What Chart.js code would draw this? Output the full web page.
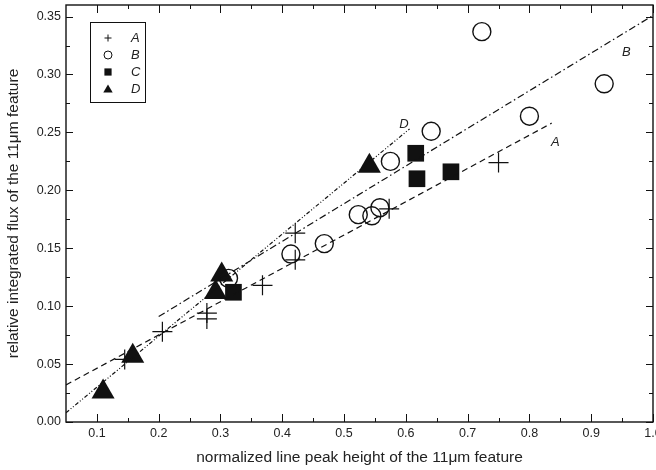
<!DOCTYPE html>
<html>
<head>
<meta charset="utf-8">
<script src="https://cdn.jsdelivr.net/npm/chart.js@4.4.1/dist/chart.umd.min.js"></script>
<style>
  html, body { margin: 0; padding: 0; background: #fff; }
  canvas { display: block; }
</style>
</head>
<body>
<canvas id="fluxChart" width="656" height="470"></canvas>
<script>
// sample A (plus markers)
const aX = [0.145, 0.206, 0.278, 0.278, 0.368, 0.421, 0.421, 0.573, 0.750];
const aY = [0.054, 0.078, 0.094, 0.089, 0.118, 0.140, 0.163, 0.184, 0.224];
// sample B (open circles)
const bX = [0.313, 0.414, 0.468, 0.523, 0.545, 0.558, 0.575, 0.641, 0.723, 0.800, 0.921];
const bY = [0.124, 0.145, 0.154, 0.179, 0.178, 0.185, 0.225, 0.251, 0.337, 0.264, 0.292];
// sample C (filled squares)
const cX = [0.321, 0.616, 0.618, 0.673];
const cY = [0.112, 0.232, 0.210, 0.216];
// sample D (filled triangles)
const dX = [0.110, 0.158, 0.292, 0.302, 0.541];
const dY = [0.026, 0.057, 0.112, 0.127, 0.221];

// linear fits, start and end points
const fitAX = [0.05, 0.836], fitAY = [0.032, 0.258];
const fitBX = [0.20, 1.00],  fitBY = [0.091, 0.351];
const fitDX = [0.05, 0.606], fitDY = [0.008, 0.253];

// fit labels
const fitNames = ['A', 'B', 'D'];
const fitNameX = [0.842, 0.957, 0.597];
const fitNameY = [0.241, 0.319, 0.257];

// axis ticks
const xTicks = [0.1, 0.2, 0.3, 0.4, 0.5, 0.6, 0.7, 0.8, 0.9, 1.0];
const xTickLabels = ['0.1', '0.2', '0.3', '0.4', '0.5', '0.6', '0.7', '0.8', '0.9', '1.0'];
const xMinor = [0.15, 0.25, 0.35, 0.45, 0.55, 0.65, 0.75, 0.85, 0.95];
const yTicks = [0, 0.05, 0.10, 0.15, 0.20, 0.25, 0.30, 0.35];
const yTickLabels = ['0.00', '0.05', '0.10', '0.15', '0.20', '0.25', '0.30', '0.35'];
const yMinor = [0.025, 0.075, 0.125, 0.175, 0.225, 0.275, 0.325];

const xTitle = 'normalized line peak height of the 11\u03bcm feature';
const yTitle = 'relative integrated flux of the 11\u03bcm feature';

const FONT = "'Liberation Sans', Arial, Helvetica, sans-serif";
const INK = '#111';

const pts = (xs, ys) => xs.map((x, i) => ({ x, y: ys[i] }));

function fitLine(xs, ys, dash) {
  return {
    type: 'line',
    data: pts(xs, ys),
    borderColor: INK,
    borderWidth: 1.2,
    borderDash: dash,
    pointRadius: 0,
    fill: false,
    showLine: true
  };
}

// little markers for the legend box
function legendMarker(ctx, kind, x, y) {
  ctx.save();
  ctx.strokeStyle = INK;
  ctx.fillStyle = INK;
  ctx.lineWidth = 1;
  ctx.beginPath();
  if (kind === 'plus') {
    ctx.moveTo(x - 3.5, y); ctx.lineTo(x + 3.5, y);
    ctx.moveTo(x, y - 3.5); ctx.lineTo(x, y + 3.5);
    ctx.stroke();
  } else if (kind === 'circle') {
    ctx.arc(x, y, 4, 0, Math.PI * 2);
    ctx.stroke();
  } else if (kind === 'square') {
    ctx.fillRect(x - 3.6, y - 3.6, 7.2, 7.2);
  } else {
    ctx.moveTo(x, y - 4.5); ctx.lineTo(x + 4.7, y + 3.6); ctx.lineTo(x - 4.7, y + 3.6);
    ctx.closePath();
    ctx.fill();
  }
  ctx.restore();
}

const framePlugin = {
  id: 'frame',
  afterDatasetsDraw(chart) {
    const { ctx, chartArea: a, scales: { x, y } } = chart;
    ctx.save();

    // axes box
    ctx.strokeStyle = INK;
    ctx.lineWidth = 1.4;
    ctx.strokeRect(a.left, a.top, a.right - a.left, a.bottom - a.top);

    // inward ticks on all four sides
    ctx.lineWidth = 1;
    ctx.beginPath();
    const xt = (v, len) => {
      const px = Math.round(x.getPixelForValue(v)) + 0.5;
      ctx.moveTo(px, a.bottom); ctx.lineTo(px, a.bottom - len);
      ctx.moveTo(px, a.top); ctx.lineTo(px, a.top + len);
    };
    const yt = (v, len) => {
      const py = Math.round(y.getPixelForValue(v)) + 0.5;
      ctx.moveTo(a.left, py); ctx.lineTo(a.left + len, py);
      ctx.moveTo(a.right, py); ctx.lineTo(a.right - len, py);
    };
    xTicks.forEach(v => xt(v, 8));
    xMinor.forEach(v => xt(v, 4));
    yTicks.forEach(v => yt(v, 7));
    yMinor.forEach(v => yt(v, 4));
    ctx.stroke();

    // tick labels
    ctx.fillStyle = '#222';
    ctx.font = '12.5px ' + FONT;
    ctx.textAlign = 'center';
    ctx.textBaseline = 'middle';
    xTicks.forEach((v, i) => ctx.fillText(xTickLabels[i], x.getPixelForValue(v), a.bottom + 12));
    ctx.textAlign = 'right';
    yTicks.forEach((v, i) => ctx.fillText(yTickLabels[i], a.left - 5, y.getPixelForValue(v)));

    // axis titles
    ctx.font = '15.5px ' + FONT;
    ctx.textAlign = 'center';
    ctx.fillText(xTitle, (a.left + a.right) / 2, a.bottom + 36);
    ctx.save();
    ctx.translate(14, (a.top + a.bottom) / 2);
    ctx.rotate(-Math.PI / 2);
    ctx.fillText(yTitle, 0, 0);
    ctx.restore();

    // fit line names
    ctx.font = 'italic 13px ' + FONT;
    fitNames.forEach((n, i) => {
      ctx.fillText(n, x.getPixelForValue(fitNameX[i]), y.getPixelForValue(fitNameY[i]));
    });

    // legend box
    ctx.lineWidth = 1;
    ctx.strokeStyle = INK;
    ctx.strokeRect(90.5, 22.5, 55, 80);
    const kinds = ['plus', 'circle', 'square', 'triangle'];
    const names = ['A', 'B', 'C', 'D'];
    ctx.textAlign = 'left';
    kinds.forEach((k, i) => {
      const ly = 38 + i * 17;
      legendMarker(ctx, k, 108, ly);
      ctx.fillText(names[i], 131, ly);
    });

    ctx.restore();
  }
};

new Chart(document.getElementById('fluxChart'), {
  type: 'scatter',
  data: {
    datasets: [
      fitLine(fitAX, fitAY, [6, 4]),
      fitLine(fitBX, fitBY, [7, 3, 1.5, 3]),
      fitLine(fitDX, fitDY, [4, 2, 1, 2, 1, 2]),
      {
        data: pts(aX, aY),
        pointStyle: 'cross',
        pointRadius: 10,
        borderColor: INK,
        borderWidth: 1.2
      },
      {
        data: pts(bX, bY),
        pointStyle: 'circle',
        pointRadius: 9,
        borderColor: INK,
        backgroundColor: 'rgba(0,0,0,0)',
        borderWidth: 1.4
      },
      {
        data: pts(cX, cY),
        pointStyle: 'rect',
        pointRadius: 11.8,
        borderColor: INK,
        backgroundColor: INK,
        borderWidth: 0
      },
      {
        data: pts(dX, dY),
        pointStyle: 'triangle',
        pointRadius: 13.3,
        borderColor: INK,
        backgroundColor: INK,
        borderWidth: 0
      }
    ]
  },
  options: {
    responsive: false,
    devicePixelRatio: 1,
    animation: false,
    layout: { autoPadding: false, padding: { left: 66, right: 3, top: 5, bottom: 48 } },
    plugins: {
      legend: { display: false },
      tooltip: { enabled: false }
    },
    scales: {
      x: { type: 'linear', min: 0.05, max: 1.0, display: false },
      y: { type: 'linear', min: 0, max: 0.36, display: false }
    },
    elements: { point: { hoverRadius: 0 } }
  },
  plugins: [framePlugin]
});
</script>
</body>
</html>
